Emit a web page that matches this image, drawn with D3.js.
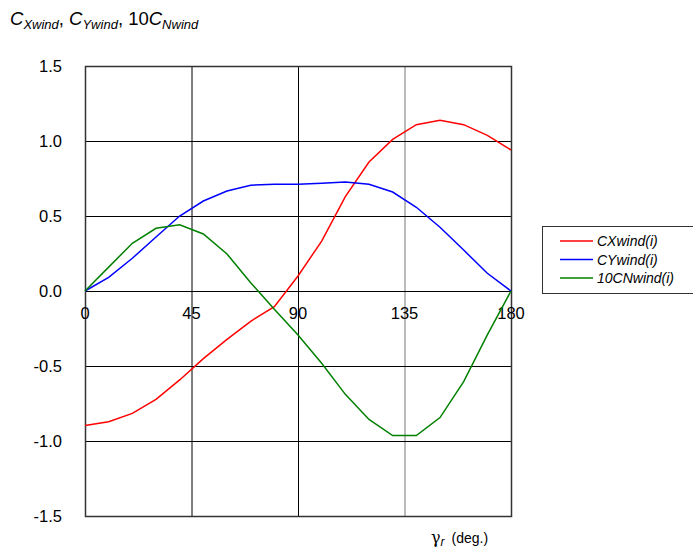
<!DOCTYPE html>
<html><head><meta charset="utf-8">
<script src="https://cdn.jsdelivr.net/npm/d3@7"></script>
<style>body{margin:0;background:#fff}svg{display:block;font-family:Arial,"Liberation Sans",sans-serif}</style>
</head><body>
<script>
const angles = [0,10,20,30,40,50,60,70,80,90,100,110,120,130,140,150,160,170,180];
const cx = [-0.896,-0.871,-0.816,-0.722,-0.593,-0.451,-0.322,-0.202,-0.104,0.100,0.333,0.629,0.860,1.011,1.109,1.138,1.109,1.038,0.940];
const cy = [0,0.091,0.218,0.360,0.500,0.600,0.667,0.705,0.711,0.711,0.718,0.727,0.711,0.660,0.558,0.425,0.273,0.118,0];
const cn10 = [0,0.159,0.318,0.418,0.442,0.380,0.247,0.055,-0.122,-0.293,-0.482,-0.689,-0.856,-0.964,-0.964,-0.844,-0.604,-0.293,0];
const xTicks = [0,45,90,135,180];
const yTicks = [1.5,1.0,0.5,0.0,-0.5,-1.0,-1.5];
const seriesNames = ["CXwind(i)","CYwind(i)","10CNwind(i)"];
const seriesColors = ["#ff0000","#0000ff","#008000"];
const series = [cx, cy, cn10];

const W=693,H=551;
const svg=d3.select("body").append("svg").attr("width",W).attr("height",H);
const x=d3.scaleLinear().domain([0,180]).range([85,511]);
const y=d3.scaleLinear().domain([-1.5,1.5]).range([516,66]);

// grid
const g=svg.append("g");
g.selectAll(".vg").data(xTicks).join("line")
 .attr("x1",d=>x(d)+0.5).attr("x2",d=>x(d)+0.5).attr("y1",y(1.5)).attr("y2",y(-1.5))
 .attr("stroke",(d,i)=>i===3?"#777":"#000").attr("stroke-width",1);
g.selectAll(".hg").data(yTicks).join("line")
 .attr("x1",x(0)).attr("x2",x(180)).attr("y1",d=>Math.round(y(d))+0.5).attr("y2",d=>Math.round(y(d))+0.5)
 .attr("stroke","#000").attr("stroke-width",1);
svg.append("rect").attr("x",x(0)+0.5).attr("y",y(1.5)+0.5).attr("width",x(180)-x(0)).attr("height",y(-1.5)-y(1.5))
 .attr("fill","none").attr("stroke","#333").attr("stroke-width",1.5);

// y labels
svg.selectAll(".yl").data(yTicks).join("text")
 .attr("x",62).attr("y",d=>y(d)+6).attr("text-anchor","end").attr("font-size",16.5).attr("fill","#000")
 .text(d=>d.toFixed(1));
// x labels
svg.selectAll(".xl").data(xTicks).join("text")
 .attr("x",d=>x(d)).attr("y",y(0)+28).attr("text-anchor","middle").attr("font-size",16.5).attr("fill","#000")
 .text(d=>d);

// lines
const line=d3.line().x((d,i)=>x(angles[i])).y(d=>y(d));
series.forEach((s,k)=>{
  svg.append("path").datum(s).attr("d",line).attr("fill","none").attr("stroke",seriesColors[k]).attr("stroke-width",1.5);
});

// title
const t=svg.append("text").attr("x",10).attr("y",25).attr("font-size",18.5).attr("fill","#000");
t.append("tspan").attr("font-style","italic").text("C");
t.append("tspan").attr("font-style","italic").attr("font-size",13).attr("dy",4).text("Xwind");
t.append("tspan").attr("dy",-4).text(", ");
t.append("tspan").attr("font-style","italic").text("C");
t.append("tspan").attr("font-style","italic").attr("font-size",13).attr("dy",4).text("Ywind");
t.append("tspan").attr("dy",-4).text(", 10");
t.append("tspan").attr("font-style","italic").text("C");
t.append("tspan").attr("font-style","italic").attr("font-size",13).attr("dy",4).text("Nwind");

// x axis title
const xt=svg.append("text").attr("x",431).attr("y",543).attr("font-size",14).attr("fill","#000");
xt.append("tspan").attr("font-family","'DejaVu Serif',serif").attr("font-size",16).text("γ");
xt.append("tspan").attr("font-style","italic").attr("font-size",12).attr("dy",3).text("r");
xt.append("tspan").attr("dy",-3).attr("dx",7).attr("font-size",14).text("(deg.)");

// legend
svg.append("rect").attr("x",542.5).attr("y",226.5).attr("width",160).attr("height",67)
 .attr("fill","#fff").attr("stroke","#333").attr("stroke-width",1);
seriesNames.forEach((n,k)=>{
  const yy=241+k*18.5;
  svg.append("line").attr("x1",560).attr("x2",593).attr("y1",yy).attr("y2",yy).attr("stroke",seriesColors[k]).attr("stroke-width",1.5);
  svg.append("text").attr("x",597).attr("y",yy+5).attr("font-size",14).attr("font-style","italic").attr("fill","#000").text(n);
});
</script>
</body></html>
